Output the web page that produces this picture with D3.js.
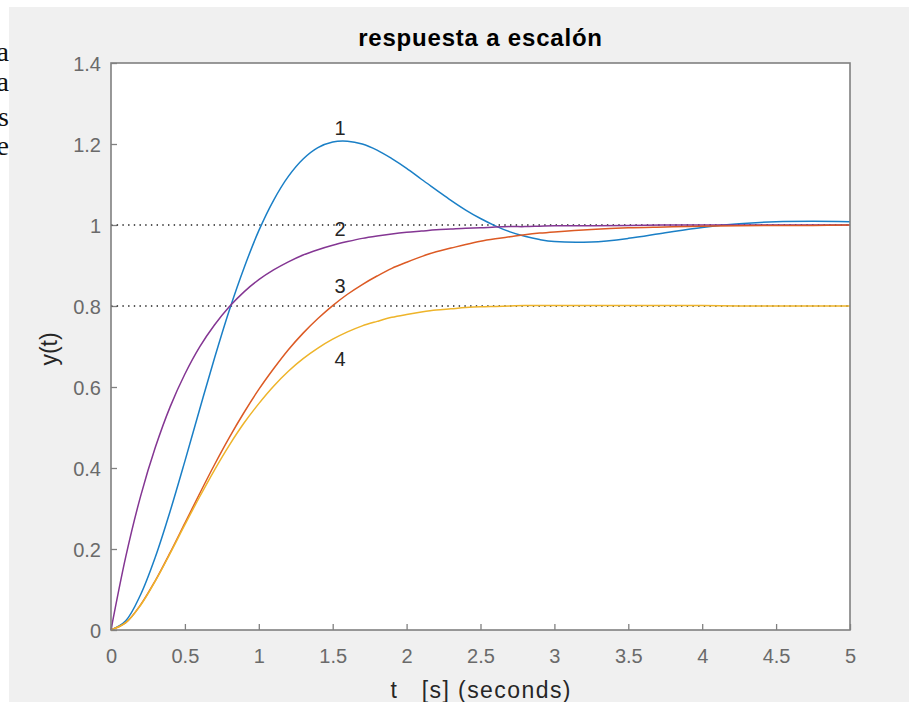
<!DOCTYPE html>
<html>
<head>
<meta charset="utf-8">
<script src="https://cdn.jsdelivr.net/npm/d3@7"></script>
<style>
  html, body { margin: 0; padding: 0; background: #ffffff; }
  svg { display: block; }
  text { font-family: "Liberation Sans", Arial, Helvetica, sans-serif; }
</style>
</head>
<body>
<div id="chart"></div>
<script>
// time samples (s)
var tVals = [0, 0.1, 0.2, 0.3, 0.4, 0.5, 0.6, 0.7, 0.8, 0.9, 1.0,
             1.1, 1.2, 1.3, 1.4, 1.5, 1.6, 1.7, 1.8, 1.9, 2.0,
             2.1, 2.2, 2.3, 2.4, 2.5, 2.6, 2.7, 2.8, 2.9, 3.0,
             3.25, 3.5, 3.75, 4.0, 4.25, 4.5, 4.75, 5.0];

// curve 1 (blue, underdamped)
var resp1 = [0, 0.023, 0.087, 0.180, 0.293, 0.417, 0.545, 0.671, 0.789, 0.894, 0.986,
             1.061, 1.120, 1.163, 1.191, 1.205, 1.207, 1.200, 1.185, 1.164, 1.140,
             1.113, 1.087, 1.061, 1.037, 1.016, 0.998, 0.983, 0.972, 0.964, 0.959,
             0.958, 0.967, 0.981, 0.994, 1.003, 1.008, 1.009, 1.008];

// curve 2 (purple)
var resp2 = [0, 0.181, 0.330, 0.451, 0.551, 0.632, 0.699, 0.753, 0.798, 0.835, 0.865,
             0.889, 0.909, 0.926, 0.939, 0.950, 0.959, 0.967, 0.973, 0.978, 0.982,
             0.985, 0.988, 0.990, 0.992, 0.993, 0.995, 0.996, 0.996, 0.997, 0.998,
             0.998, 0.999, 1.0, 1.0, 1.0, 1.0, 1.0, 1.0];

// curve 3 (orange)
var resp3 = [0, 0.018, 0.062, 0.122, 0.191, 0.264, 0.337, 0.408, 0.475, 0.537, 0.594,
             0.645, 0.692, 0.733, 0.769, 0.801, 0.829, 0.853, 0.874, 0.893, 0.908,
             0.922, 0.934, 0.943, 0.952, 0.960, 0.966, 0.971, 0.976, 0.980, 0.983,
             0.989, 0.993, 0.995, 0.997, 0.998, 0.999, 0.999, 1.0];

// curve 4 (yellow, settles at 0.8)
var resp4 = [0, 0.018, 0.061, 0.121, 0.189, 0.260, 0.329, 0.395, 0.456, 0.511, 0.559,
             0.602, 0.639, 0.670, 0.696, 0.718, 0.736, 0.751, 0.762, 0.772, 0.779,
             0.785, 0.790, 0.793, 0.796, 0.798, 0.799, 0.800, 0.801, 0.801, 0.801,
             0.801, 0.801, 0.801, 0.801, 0.800, 0.800, 0.800, 0.800];

var seriesNames = ["1", "2", "3", "4"];
var seriesColors = ["#1a7fc6", "#843693", "#dc5a24", "#eeb42a"];
// label positions: [t, y]
var labelPos = [[1.55, 1.222], [1.55, 0.973], [1.55, 0.832], [1.55, 0.652]];

var refLevels = [1, 0.8];
var xTicks = [0, 0.5, 1, 1.5, 2, 2.5, 3, 3.5, 4, 4.5, 5];
var yTicks = [0, 0.2, 0.4, 0.6, 0.8, 1, 1.2, 1.4];

var W = 909, H = 702;
var margin = {top: 63, right: 59, bottom: 72, left: 111},
    width = W - margin.left - margin.right,
    height = H - margin.top - margin.bottom;

var svg = d3.select("#chart")
  .append("svg")
    .attr("width", W)
    .attr("height", H);

// cropped page text on the far left
var sideText = [["a", 61], ["a", 91], ["s", 126], ["e", 155]];
svg.selectAll(".side")
  .data(sideText)
  .enter()
  .append("text")
    .attr("x", 9)
    .attr("y", function (d) { return d[1]; })
    .attr("text-anchor", "end")
    .style("font-family", "'Liberation Serif', 'DejaVu Serif', serif")
    .style("font-size", "28px")
    .style("fill", "#111")
    .text(function (d) { return d[0]; });

// figure background
svg.append("rect")
  .attr("x", 9).attr("y", 7)
  .attr("width", W - 9).attr("height", H - 7)
  .style("fill", "#f0f0f0");

var g = svg.append("g")
  .attr("transform", "translate(" + margin.left + "," + margin.top + ")");

g.append("rect")
  .attr("width", width).attr("height", height)
  .style("fill", "#ffffff");

var x = d3.scaleLinear().domain([0, 5]).range([0, width]);
var y = d3.scaleLinear().domain([0, 1.4]).range([height, 0]);

// X axis
var xAxis = g.append("g")
  .attr("transform", "translate(0," + height + ")")
  .call(d3.axisBottom(x).tickValues(xTicks).tickFormat(d3.format("")).tickSizeInner(-6).tickSizeOuter(0).tickPadding(19));

// Y axis
var yAxis = g.append("g")
  .call(d3.axisLeft(y).tickValues(yTicks).tickFormat(d3.format("")).tickSizeInner(-6).tickSizeOuter(0).tickPadding(10));

[xAxis, yAxis].forEach(function (a) {
  a.select(".domain").remove();
  a.selectAll(".tick line").style("stroke", "#808080").style("stroke-width", 1.3);
  a.selectAll(".tick text")
    .style("font-family", "'Liberation Sans', Arial, sans-serif")
    .style("font-size", "20px")
    .style("fill", "#6a6a6a");
});
xAxis.selectAll(".tick text").attr("dy", "0.71em");
yAxis.selectAll(".tick text").attr("dy", "0.35em");

// reference dotted lines
g.selectAll(".ref")
  .data(refLevels)
  .enter()
  .append("line")
    .attr("x1", x(0)).attr("x2", x(5))
    .attr("y1", function (d) { return y(d); })
    .attr("y2", function (d) { return y(d); })
    .style("stroke", "#222")
    .style("stroke-width", 1.4)
    .style("stroke-dasharray", "1.4,4.3");

// curves
var allSeries = [resp1, resp2, resp3, resp4];
var line = d3.line()
  .x(function (d, i) { return x(tVals[i]); })
  .y(function (d) { return y(d); })
  .curve(d3.curveCatmullRom.alpha(0.5));

g.selectAll(".curve")
  .data(allSeries)
  .enter()
  .append("path")
    .attr("d", function (d) { return line(d); })
    .style("fill", "none")
    .style("stroke", function (d, i) { return seriesColors[i]; })
    .style("stroke-width", 1.5);

// curve labels
g.selectAll(".lbl")
  .data(labelPos)
  .enter()
  .append("text")
    .attr("x", function (d) { return x(d[0]); })
    .attr("y", function (d) { return y(d[1]); })
    .attr("text-anchor", "middle")
    .style("font-size", "20px")
    .style("fill", "#262626")
    .text(function (d, i) { return seriesNames[i]; });

// box
g.append("rect")
  .attr("width", width).attr("height", height)
  .style("fill", "none")
  .style("stroke", "#808080")
  .style("stroke-width", 1.6);

// title
svg.append("text")
  .attr("x", margin.left + width / 2)
  .attr("y", 46)
  .attr("text-anchor", "middle")
  .style("font-weight", "bold")
  .style("font-size", "24px")
  .style("letter-spacing", "0.8px")
  .style("fill", "#000")
  .text("respuesta a escalón");

// axis labels
svg.append("text")
  .attr("x", margin.left + width / 2)
  .attr("y", 698)
  .attr("text-anchor", "middle")
  .attr("xml:space", "preserve")
  .attr("textLength", 180)
  .attr("lengthAdjust", "spacing")
  .style("white-space", "pre")
  .style("font-size", "23px")
  .style("fill", "#262626")
  .text("t   [s] (seconds)");

svg.append("text")
  .attr("transform", "translate(57,349) rotate(-90)")
  .attr("text-anchor", "middle")
  .style("font-size", "23px")
  .style("fill", "#262626")
  .text("y(t)");
</script>
</body>
</html>
